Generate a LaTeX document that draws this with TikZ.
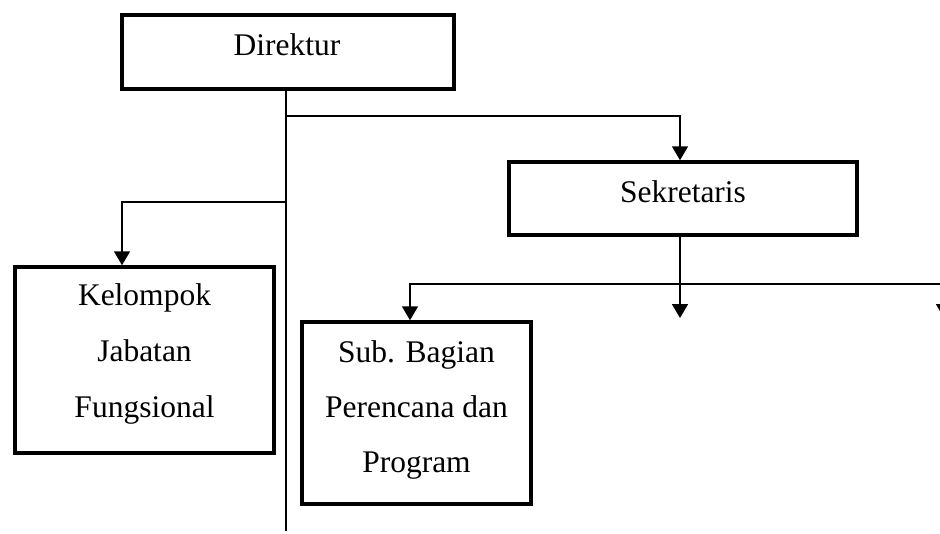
\documentclass[tikz,border=0pt]{standalone}
\usepackage{fontspec}
\setmainfont{Liberation Serif}
\usetikzlibrary{arrows.meta}
\begin{document}
\begin{tikzpicture}[x=1pt,y=-1pt,
  box/.style={draw=black, line width=3.5pt, rectangle, inner sep=0pt},
  lbl/.style={inner sep=0pt, anchor=base, font=\fontsize{31.5}{38}\selectfont},
  conn/.style={draw=black, line width=1.7pt},
  arr/.style={conn, -{Triangle[width=16pt,length=14pt]}}]
\useasboundingbox (0,0) rectangle (940,533);
\clip (0,0) rectangle (940,533);
% boxes
\node[box, minimum width=332pt, minimum height=74pt] (dir) at (288,52) {};
\node[box, minimum width=348pt, minimum height=73pt] (sek) at (683,198.5) {};
\node[box, minimum width=259pt, minimum height=186pt] (kel) at (144.5,360) {};
\node[box, minimum width=229pt, minimum height=182pt] (sub) at (416.5,413) {};
% labels
\node[lbl] (tdir) at (287,55) {Direktur};
\node[lbl] (tsek) at (683,202) {Sekretaris};
\node[lbl] (tkel1) at (144.5,305) {Kelompok};
\node[lbl] (tkel2) at (144.5,361) {Jabatan};
\node[lbl] (tkel3) at (144.5,417) {Fungsional};
\node[lbl] (tsub1) at (416.5,362) {Sub. Bagian};
\node[lbl] (tsub2) at (416.5,417) {Perencana dan};
\node[lbl] (tsub3) at (416.5,472) {Program};
% coordinates
\coordinate (t0) at (286,91);
\coordinate (t1) at (286,531);
\coordinate (j1) at (286,116);
\coordinate (j2) at (286,202);
\coordinate (bR) at (950,284);
\coordinate (c3) at (680,318);
\coordinate (r0) at (944,284);
\coordinate (r1) at (944,318);
% connectors
\draw[conn] (t0) -- (t1);
\draw[arr] (j1) -| ([xshift=-3pt]sek.north);
\draw[arr] (j2) -| ([xshift=-22.5pt]kel.north);
\draw[arr] ([xshift=-3pt]sek.south) -- (c3);
\draw[arr] (bR) -| ([xshift=-6.5pt]sub.north);
\draw[arr] (r0) -- (r1);
\end{tikzpicture}
\end{document}
